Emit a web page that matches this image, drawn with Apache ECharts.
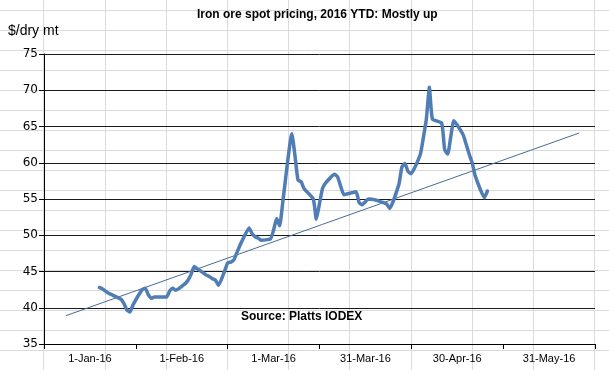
<!DOCTYPE html>
<html>
<head>
<meta charset="utf-8">
<script src="https://cdn.jsdelivr.net/npm/echarts@6/dist/echarts.min.js"></script>
<style>
  html, body { margin: 0; padding: 0; background: #fff; }
  #chart { width: 609px; height: 370px; }
</style>
</head>
<body>
<div id="chart"></div>
<script>
// ---- Data ----
const chartTitle = 'Iron ore spot pricing, 2016 YTD: Mostly up';
const yAxisTitle = '$/dry mt';
const sourceNote = 'Source: Platts IODEX';
const xLabels = ['1-Jan-16', '1-Feb-16', '1-Mar-16', '31-Mar-16', '30-Apr-16', '31-May-16'];
const yMin = 35, yMax = 75, yStep = 5;

const dates = [
  '2016-01-04','2016-01-05','2016-01-06','2016-01-07','2016-01-08',
  '2016-01-11','2016-01-12','2016-01-13','2016-01-14','2016-01-15',
  '2016-01-18','2016-01-19','2016-01-20','2016-01-21','2016-01-22',
  '2016-01-25','2016-01-26','2016-01-27','2016-01-28','2016-01-29',
  '2016-02-01','2016-02-02','2016-02-03','2016-02-04','2016-02-05',
  '2016-02-08','2016-02-09','2016-02-10','2016-02-11','2016-02-12',
  '2016-02-15','2016-02-16','2016-02-17','2016-02-18','2016-02-19',
  '2016-02-22','2016-02-23','2016-02-24','2016-02-25','2016-02-26',
  '2016-02-29','2016-03-01','2016-03-02','2016-03-03','2016-03-04',
  '2016-03-07','2016-03-08','2016-03-09','2016-03-10','2016-03-11',
  '2016-03-14','2016-03-15','2016-03-16','2016-03-17','2016-03-18',
  '2016-03-21','2016-03-22','2016-03-23','2016-03-24','2016-03-25',
  '2016-03-28','2016-03-29','2016-03-30','2016-03-31','2016-04-01',
  '2016-04-04','2016-04-05','2016-04-06','2016-04-07','2016-04-08',
  '2016-04-11','2016-04-12','2016-04-13','2016-04-14','2016-04-15',
  '2016-04-18','2016-04-19','2016-04-20','2016-04-21','2016-04-22',
  '2016-04-25','2016-04-26','2016-04-27','2016-04-28','2016-04-29',
  '2016-05-02','2016-05-03','2016-05-04','2016-05-05','2016-05-06',
  '2016-05-09','2016-05-10'
];
const prices = [
  42.8, 42.6, 42.3, 42.0, 41.8,
  41.2, 40.6, 39.7, 39.4, 40.4,
  42.5, 42.7, 41.8, 41.3, 41.5,
  41.5, 41.5, 42.3, 42.7, 42.4,
  43.3, 43.8, 44.6, 45.7, 45.4,
  44.5, 44.3, 44.0, 43.8, 43.1,
  46.2, 46.3, 46.6, 47.6, 48.6,
  51.0, 50.2, 49.8, 49.6, 49.3,
  49.5, 50.7, 52.3, 51.3, 54.5,
  64.0, 61.0, 57.6, 57.4, 56.4,
  55.0, 52.2, 54.3, 56.4, 57.2,
  58.4, 58.0, 56.7, 55.6, 55.7,
  56.0, 54.5, 54.2, 54.6, 55.0,
  54.8, 54.6, 54.5, 54.3, 53.7,
  57.0, 59.4, 59.9, 58.8, 58.5,
  61.1, 63.4, 66.0, 70.4, 66.0,
  65.5, 61.8, 61.2, 63.6, 65.8,
  63.9, 62.6, 61.2, 60.0, 58.2,
  55.2, 56.1
];
const trendDates = ['2015-12-24', '2016-06-09'];
const trendValues = [38.9, 64.1];

// ---- Helpers ----
function dayOf(s) {
  const p = s.split('-').map(Number);
  return (Date.UTC(p[0], p[1] - 1, p[2]) - Date.UTC(2016, 0, 0)) / 86400000;
}
const priceData = dates.map((d, i) => [dayOf(d), prices[i]]);
const trendData = trendDates.map((d, i) => [dayOf(d), trendValues[i]]);

// Background spreadsheet cell grid (decoration)
const cellGrid = [];
for (let k = 0; k < 10; k++) {
  const x = Math.round(43.4 + 61.2 * k) + 0.5;
  cellGrid.push({ type: 'line', z: 0, silent: true,
    shape: { x1: x, y1: 0, x2: x, y2: 370 },
    style: { stroke: '#dadada', lineWidth: 1 } });
}
for (let k = 0; k < 19; k++) {
  const y = Math.round(9.5 + 20 * k) + 0.5;
  cellGrid.push({ type: 'line', z: 0, silent: true,
    shape: { x1: 0, y1: y, x2: 609, y2: y },
    style: { stroke: '#dadada', lineWidth: 1 } });
}

const chart = echarts.init(document.getElementById('chart'), null, { renderer: 'canvas' });
chart.setOption({
  animation: false,
  backgroundColor: '#ffffff',
  grid: { left: 44, right: 14, top: 54, bottom: 26, containLabel: false },
  graphic: cellGrid.concat([
    { type: 'text', left: 8, top: 24, z: 10,
      style: { text: yAxisTitle, font: '14px "Liberation Sans", Arial, sans-serif', fill: '#000' } },
    { type: 'text', left: 197, top: 9, z: 10,
      style: { text: chartTitle, font: 'bold 12px "Liberation Sans", Arial, sans-serif', fill: '#000' } },
    { type: 'text', left: 241, top: 311, z: 10,
      style: { text: sourceNote, font: 'bold 12px "Liberation Sans", Arial, sans-serif', fill: '#000' } }
  ]),
  xAxis: [
    {
      type: 'category',
      data: xLabels,
      boundaryGap: true,
      axisLine: { show: true, lineStyle: { color: '#000', width: 1 } },
      axisTick: { show: true, length: 5, lineStyle: { color: '#000' } },
      axisLabel: { color: '#000', fontSize: 11, margin: 9, fontFamily: '"Liberation Sans", Arial, sans-serif', interval: 0 },
      splitLine: { show: false }
    },
    {
      type: 'value',
      show: false,
      min: -14.13,
      max: 166.2,
      splitLine: { show: false }
    }
  ],
  yAxis: {
    type: 'value',
    min: yMin, max: yMax, interval: yStep,
    axisLine: { show: true, onZero: false, lineStyle: { color: '#000', width: 1 } },
    axisTick: { show: true, length: 5, lineStyle: { color: '#000' } },
    axisLabel: { color: '#000', fontSize: 12, margin: 6, fontFamily: '"DejaVu Sans", Verdana, sans-serif' },
    splitLine: { show: true, lineStyle: { color: '#1a1a1a', width: 1 } }
  },
  series: [
    {
      type: 'line',
      name: 'Trend',
      xAxisIndex: 1,
      data: trendData,
      symbol: 'none',
      lineStyle: { color: '#4a6a94', width: 1 },
      z: 3
    },
    {
      type: 'line',
      name: 'IODEX',
      xAxisIndex: 1,
      data: priceData,
      symbol: 'none',
      smooth: 0.15,
      lineStyle: { color: '#4f7db4', width: 3.5, join: 'round', cap: 'round' },
      z: 4
    }
  ]
});
</script>
</body>
</html>
